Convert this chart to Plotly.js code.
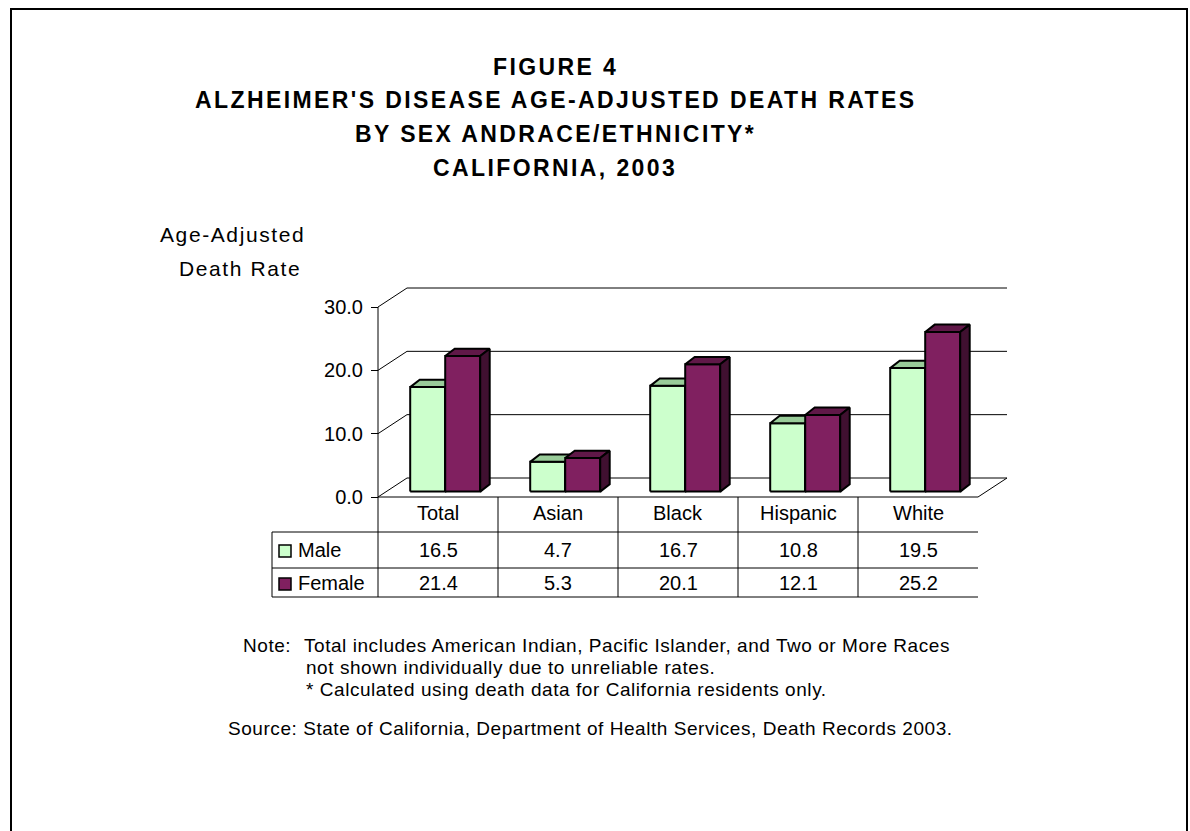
<!DOCTYPE html>
<html>
<head>
<meta charset="utf-8">
<script src="https://cdn.plot.ly/plotly-3.0.1.min.js"></script>
<style>
  html, body { margin: 0; padding: 0; background: #fff; }
  #chart { width: 1190px; height: 831px; }
</style>
</head>
<body>
<div id="chart"></div>
<script>
// ---------------- data ----------------
const categories = ['Total', 'Asian', 'Black', 'Hispanic', 'White'];
const male = [16.5, 4.7, 16.7, 10.8, 19.5];
const female = [21.4, 5.3, 20.1, 12.1, 25.2];
const seriesNames = ['Male', 'Female'];
const yTicks = [0, 10, 20, 30];
const yTickLabels = ['0.0', '10.0', '20.0', '30.0'];
const titleLines = ['FIGURE 4', "ALZHEIMER'S DISEASE AGE-ADJUSTED DEATH RATES", 'BY SEX ANDRACE/ETHNICITY*', 'CALIFORNIA, 2003'];
const yTitleLines = ['Age-Adjusted', 'Death Rate'];
const noteLabel = 'Note:';
const noteLines = ['Total includes American Indian, Pacific Islander, and Two or More Races',
                   'not shown individually due to unreliable rates.',
                   '* Calculated using death data for California residents only.'];
const sourceLine = 'Source: State of California, Department of Health Services, Death Records 2003.';

// ---------------- geometry / style ----------------
const W = 1190, H = 831;
const FONT = 'Liberation Sans, Arial, Helvetica, sans-serif';
const CAT_PX = 120, CAT0_PX = 438, ZERO_PX = 497, UNIT = 190 / 30;
const px2x = p => (p - CAT0_PX) / CAT_PX;
const py2y = p => (ZERO_PX - p) / UNIT;
const PX = p => p / W;
const PY = p => 1 - p / H;

const colors = {
  front: ['#CCFFCC', '#802060'],
  top: ['#99CC99', '#601848'],
  side: ['#669966', '#401030']
};
const BW = 35 / CAT_PX, SPLIT = 0.06, BASE = 0.85;
const DDX = 9.5 / CAT_PX, DDY = 7.4 / UNIT;      // bar depth
const WDX = 29 / CAT_PX, WDY = 19 / UNIT;        // back-wall depth
const nCat = categories.length;
const xL = -0.5, xR = nCat - 0.5;

// ---------------- bar faces (polygons from data) ----------------
function faceTraces(vals, s) {
  const f = {x: [], y: []}, t = {x: [], y: []}, sd = {x: [], y: []};
  vals.forEach((v, i) => {
    const x0 = s === 0 ? i + SPLIT - BW : i + SPLIT;
    const x1 = x0 + BW;
    const b = BASE, top = BASE + v;
    f.x.push(x0, x1, x1, x0, x0, null);  f.y.push(b, b, top, top, b, null);
    t.x.push(x0, x1, x1 + DDX, x0 + DDX, x0, null); t.y.push(top, top, top + DDY, top + DDY, top, null);
    sd.x.push(x1, x1 + DDX, x1 + DDX, x1, x1, null); sd.y.push(b, b + DDY, top + DDY, top, b, null);
  });
  const mk = (d, c) => ({
    type: 'scatter', mode: 'lines', x: d.x, y: d.y, fill: 'toself', fillcolor: c,
    line: {color: '#000', width: 2}, hoverinfo: 'skip', showlegend: false, name: seriesNames[s]
  });
  return [mk(f, colors.front[s]), mk(t, colors.top[s]), mk(sd, colors.side[s])];
}
const data = [...faceTraces(male, 0), ...faceTraces(female, 1)];

// ---------------- shapes ----------------
const shapes = [];
const line = (x0, y0, x1, y1, ref, w, c) => ({
  type: 'line', xref: ref, yref: ref === 'x' ? 'y' : 'paper', x0, y0, x1, y1,
  line: {color: c || '#000', width: w || 1}, layer: 'below'
});
// back wall gridlines + left diagonals
yTicks.forEach(t => {
  shapes.push({type: 'path', xref: 'x', yref: 'y', layer: 'below',
    path: `M ${xL},${t} L ${xL + WDX},${t + WDY} L ${xR + WDX},${t + WDY}`,
    line: {color: '#000', width: 1}});
});
// floor right edge and front axis line
shapes.push(line(xR, 0, xR + WDX, WDY, 'x'));
shapes.push(line(xL, 0, xL, yTicks[yTicks.length - 1], 'x'));
// table
const tblL = 272, tblTop = ZERO_PX, rowA = 532, rowB = 568, tblBot = 597;
const colX = k => 378 + CAT_PX * k;
shapes.push(line(PX(colX(0)), PY(tblTop), PX(colX(nCat)), PY(tblTop), 'paper'));
[rowA, rowB, tblBot].forEach(yy => shapes.push(line(PX(tblL), PY(yy), PX(colX(nCat)), PY(yy), 'paper')));
shapes.push(line(PX(tblL), PY(rowA), PX(tblL), PY(tblBot), 'paper'));
for (let k = 0; k < nCat; k++) shapes.push(line(PX(colX(k)), PY(tblTop), PX(colX(k)), PY(tblBot), 'paper'));
// legend keys
const rowCenters = [550, 583];
seriesNames.forEach((n, s) => {
  shapes.push({type: 'rect', xref: 'paper', yref: 'paper',
    x0: PX(279), x1: PX(291), y0: PY(rowCenters[s] - 5), y1: PY(rowCenters[s] + 7),
    fillcolor: colors.front[s], line: {color: '#000', width: 1.5}});
});
// outer frame
shapes.push({type: 'path', xref: 'paper', yref: 'paper',
  path: `M ${PX(11)},${PY(860)} L ${PX(11)},${PY(9)} L ${PX(1187)},${PY(9)} L ${PX(1187)},${PY(860)}`,
  line: {color: '#000', width: 2}});

// ---------------- annotations ----------------
const ann = [];
const sp = (txt, ls) => `<span style="letter-spacing:${ls}px">${txt}</span>`;
const titleY = [67, 100, 134, 168];
titleLines.forEach((t, i) => ann.push({
  text: sp(t, 2.4), xref: 'paper', yref: 'paper', x: PX(555), y: PY(titleY[i]),
  xanchor: 'center', yanchor: 'middle', showarrow: false,
  font: {family: FONT, size: 23, color: '#000', weight: 700}
}));
const yTitleX = [158, 177], yTitleY = [234, 268];
yTitleLines.forEach((t, i) => ann.push({
  text: sp(t, 1.6), xref: 'paper', yref: 'paper', x: PX(yTitleX[i]), y: PY(yTitleY[i]),
  xanchor: 'left', yanchor: 'middle', showarrow: false,
  font: {family: FONT, size: 21, color: '#000'}
}));
categories.forEach((c, i) => ann.push({
  text: c, xref: 'x', yref: 'paper', x: i, y: PY(513), xanchor: 'center', yanchor: 'middle',
  showarrow: false, font: {family: FONT, size: 20, color: '#000'}
}));
[male, female].forEach((vals, s) => {
  vals.forEach((v, i) => ann.push({
    text: v.toFixed(1), xref: 'x', yref: 'paper', x: i, y: PY(rowCenters[s]),
    xanchor: 'center', yanchor: 'middle', showarrow: false,
    font: {family: FONT, size: 20, color: '#000'}
  }));
  ann.push({
    text: seriesNames[s], xref: 'paper', yref: 'paper', x: PX(296), y: PY(rowCenters[s]),
    xanchor: 'left', yanchor: 'middle', showarrow: false,
    font: {family: FONT, size: 20, color: '#000'}
  });
});
const noteFont = {family: FONT, size: 19, color: '#000'};
ann.push({text: sp(noteLabel, 0.55), xref: 'paper', yref: 'paper', x: PX(241), y: PY(645),
  xanchor: 'left', yanchor: 'middle', showarrow: false, font: noteFont});
const noteX = [302, 304, 304], noteY = [645, 667, 689];
noteLines.forEach((t, i) => ann.push({text: sp(t, 0.55), xref: 'paper', yref: 'paper', x: PX(noteX[i]), y: PY(noteY[i]),
  xanchor: 'left', yanchor: 'middle', showarrow: false, font: noteFont}));
ann.push({text: sp(sourceLine, 0.55), xref: 'paper', yref: 'paper', x: PX(226), y: PY(728),
  xanchor: 'left', yanchor: 'middle', showarrow: false, font: noteFont});

// ---------------- layout ----------------
const layout = {
  width: W, height: H, margin: {l: 0, r: 0, t: 0, b: 0},
  paper_bgcolor: '#fff', plot_bgcolor: 'rgba(0,0,0,0)', showlegend: false,
  font: {family: FONT, color: '#000'},
  xaxis: {range: [px2x(0), px2x(W)], visible: false, fixedrange: true},
  yaxis: {range: [py2y(H), py2y(0)], anchor: 'free', position: 378 / W,
    tickmode: 'array', tickvals: yTicks, ticktext: yTickLabels,
    ticks: 'outside', ticklen: 7, tickwidth: 1, tickcolor: '#000',
    showgrid: false, zeroline: false, showline: false, ticklabelstandoff: 4,
    tickfont: {family: FONT, size: 20, color: '#000'}, fixedrange: true},
  shapes: shapes, annotations: ann
};
Plotly.newPlot('chart', data, layout, {displayModeBar: false, staticPlot: true});
</script>
</body>
</html>
